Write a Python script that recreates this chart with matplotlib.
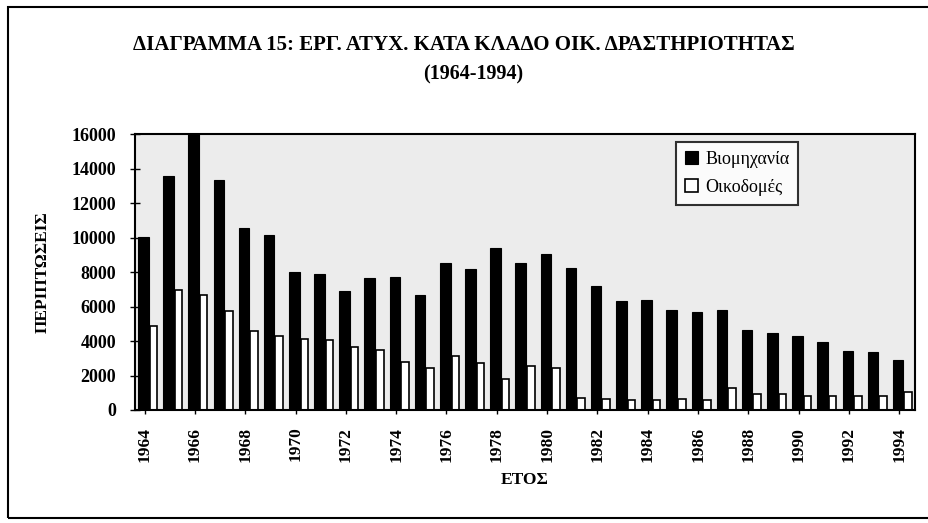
import numpy as np
import matplotlib
matplotlib.use("Agg")
import matplotlib.pyplot as plt
from matplotlib.patches import Rectangle

plt.rcParams["font.family"] = ["Liberation Serif", "DejaVu Serif"]

years = list(range(1964, 1995))
industry = [10050, 13580, 16300, 13330, 10530, 10130, 8010, 7860, 6890, 7660,
            7700, 6650, 8540, 8150, 9410, 8540, 9020, 8210, 7180, 6340,
            6400, 5780, 5680, 5820, 4660, 4440, 4270, 3920, 3400, 3380, 2870]
construction = [4850, 6950, 6650, 5720, 4560, 4270, 4130, 4030, 3650, 3490,
                2810, 2460, 3140, 2720, 1790, 2560, 2420, 720, 620, 580,
                580, 620, 580, 1300, 930, 930, 815, 815, 815, 815, 1070]
series_names = ["Βιομηχανία", "Οικοδομές"]
title = "ΔΙΑΓΡΑΜΜΑ 15: ΕΡΓ. ΑΤΥΧ. ΚΑΤΑ ΚΛΑΔΟ ΟΙΚ. ΔΡΑΣΤΗΡΙΟΤΗΤΑΣ"
subtitle = "(1964-1994)"
ylabel = "ΠΕΡΙΠΤΩΣΕΙΣ"
xlabel = "ΕΤΟΣ"

W, H = 929, 523
fig = plt.figure(figsize=(W / 100, H / 100), dpi=100)
ax = fig.add_axes([135 / W, 1 - 410 / H, 780 / W, 276 / H])
ax.set_facecolor("#ececec")

x = np.arange(len(years))
ax.bar(x + 0.33, industry, width=0.42, color="black", edgecolor="black",
       linewidth=0.8, label=series_names[0])
ax.bar(x + 0.73, construction, width=0.30, color="white", edgecolor="black",
       linewidth=1.2, label=series_names[1])

ax.set_xlim(0, len(years))
ax.set_ylim(0, 16000)
ax.set_yticks(np.arange(0, 16001, 2000))
ax.tick_params(axis="y", direction="inout", length=7, width=1, labelsize=13,
               pad=10)
ax.set_xticks(x[::2] + 0.38)
ax.set_xticklabels([str(y) for y in years[::2]], rotation=90, fontsize=12.5)
ax.tick_params(axis="x", direction="out", length=3, width=1, pad=9)
for lbl in ax.get_xticklabels() + ax.get_yticklabels():
    lbl.set_fontweight("bold")
for side in ax.spines.values():
    side.set_linewidth(1.5)

ax.set_ylabel(ylabel, fontsize=12.5, fontweight="bold", labelpad=15)
ax.set_xlabel(xlabel, fontsize=12.5, fontweight="bold", labelpad=7)

leg = ax.legend(loc="upper left", bbox_to_anchor=(0.694, 0.972), fontsize=13,
                frameon=True, fancybox=False, edgecolor="black",
                borderaxespad=0, handlelength=0.7, handleheight=0.7,
                handletextpad=0.4, borderpad=0.5, labelspacing=0.6)
leg.get_frame().set_linewidth(1.5)
leg.get_frame().set_facecolor("white")

fig.text(464 / W, 1 - 45 / H, title, ha="center", va="center",
         fontsize=15, fontweight="bold")
fig.text(473 / W, 1 - 74 / H, subtitle, ha="center", va="center",
         fontsize=14.5, fontweight="bold")

# page frame around the whole chart
fig.patches.append(Rectangle((8 / W, 1 - 518 / H), 1.0, (518 - 7) / H,
                             transform=fig.transFigure, fill=False,
                             edgecolor="black", linewidth=1.5))

fig.savefig("out.png", dpi=100)
